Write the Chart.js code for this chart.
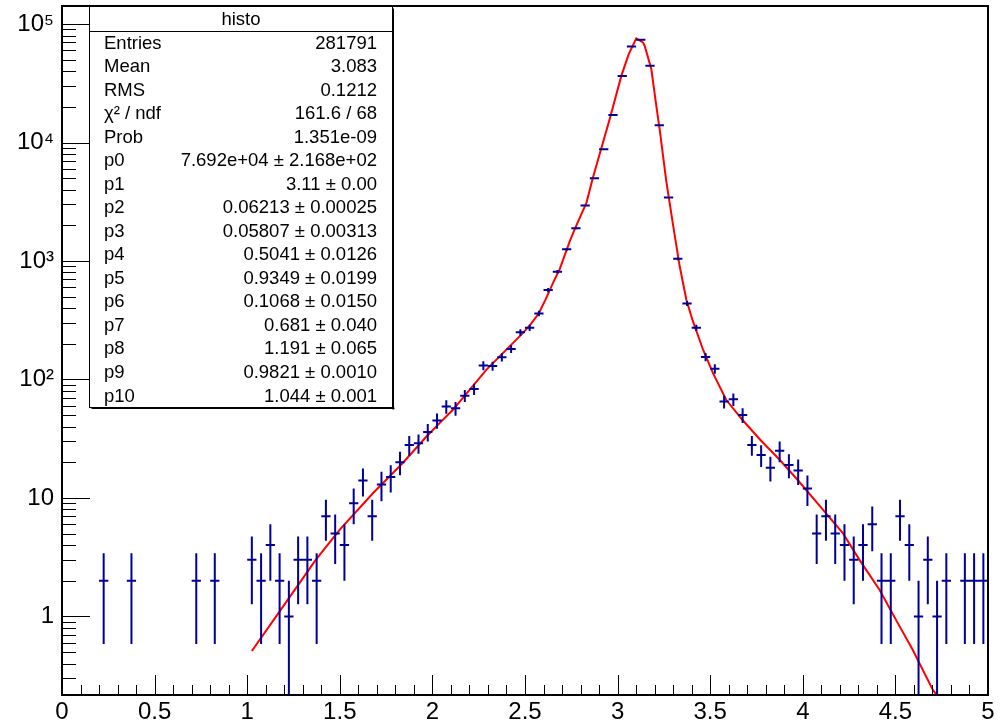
<!DOCTYPE html>
<html>
<head>
<meta charset="utf-8">
<script src="https://cdn.jsdelivr.net/npm/chart.js@4/dist/chart.umd.min.js"></script>
<style>
  html, body { margin: 0; padding: 0; background: #fff; }
  #histo { display: block; }
</style>
</head>
<body>
<canvas id="histo" width="1006" height="727"></canvas>
<script>
// histogram: 100 bins from 0 to 5
const binLow = 0;
const binWidth = 0.05;
const counts = [
  0, 0, 0, 0, 2, 0, 0, 2, 0, 0,
  0, 0, 0, 0, 2, 0, 2, 0, 0, 0,
  3, 2, 4, 2, 1, 3, 3, 2, 7, 5,
  4, 9, 14, 7, 13, 15, 20, 28, 29, 36,
  45, 59, 57, 73, 83, 131, 130, 154, 181, 250,
  273, 361, 568, 811, 1254, 1888, 2940, 4990, 8770, 17100,
  36500, 64700, 73600, 44500, 14000, 3430, 1045, 438, 273, 155,
  123, 65, 68, 50, 28, 23, 18, 25, 19, 17,
  12, 5, 7, 5, 4, 3, 4, 6, 2, 2,
  7, 4, 1, 3, 1, 2, 0, 2, 2, 2
];

// fit curve
const fitX = [1.025, 1.18, 1.37, 1.50, 1.68, 1.84, 1.968, 2.04, 2.112, 2.292, 2.472, 2.525, 2.575, 2.61, 2.652, 2.687, 2.742, 2.768, 2.832, 2.867, 2.957, 3.02, 3.06, 3.101, 3.137, 3.146, 3.182, 3.209, 3.227, 3.263, 3.299, 3.335, 3.371, 3.405, 3.461, 3.515, 3.587, 3.677, 3.77, 3.875, 3.97, 4.12, 4.216, 4.306, 4.414, 4.504, 4.594, 4.666, 4.702, 4.74];
const fitY = [0.51, 1.13, 3.0, 5.4, 11.0, 19.7, 33, 43, 55.7, 121, 232, 285, 362, 470, 656, 849, 1472, 1850, 3112, 5060, 15700, 36500, 55700, 75700, 70000, 65600, 41700, 20400, 12950, 4700, 2040, 906, 473, 315, 179, 113, 67, 45, 31, 21, 14.3, 7.6, 5.05, 3.0, 1.68, 0.93, 0.52, 0.31, 0.24, 0.2];

// axis
const xTicks = [0, 0.5, 1, 1.5, 2, 2.5, 3, 3.5, 4, 4.5, 5];
const yTicks = [1, 10, 100, 1000, 10000, 100000];
const yTickLabels = ['1', '10', '10²', '10³', '10⁴', '10⁵'];
const yMin = 0.217;
const yMax = 1.42e5;

// stats box
const statsTitle = 'histo';
const statsNames = ['Entries', 'Mean', 'RMS', 'χ² / ndf', 'Prob', 'p0', 'p1', 'p2', 'p3', 'p4', 'p5', 'p6', 'p7', 'p8', 'p9', 'p10'];
const statsValues = ['281791', '3.083', '0.1212', '161.6 / 68', '1.351e-09', '7.692e+04 ± 2.168e+02', '3.11 ± 0.00', '0.06213 ± 0.00025', '0.05807 ± 0.00313', '0.5041 ± 0.0126', '0.9349 ± 0.0199', '0.1068 ± 0.0150', '0.681 ± 0.040', '1.191 ± 0.065', '0.9821 ± 0.0010', '1.044 ± 0.001'];

const FONT = '"Liberation Sans", Arial, Helvetica, sans-serif';

// error bars as line segments, broken by gaps
const errPoints = [];
counts.forEach((n, i) => {
    if (n <= 0) return;
    const xc = binLow + binWidth * (i + 0.5);
    const e = Math.sqrt(n);
    errPoints.push({ x: xc - binWidth / 2, y: n });
    errPoints.push({ x: xc + binWidth / 2, y: n });
    errPoints.push({ x: xc, y: null });
    errPoints.push({ x: xc, y: Math.max(n - e, yMin * 0.5) });
    errPoints.push({ x: xc, y: n + e });
    errPoints.push({ x: xc, y: null });
});

const fitPoints = fitX.map((x, i) => ({ x: x, y: fitY[i] }));

const rootFrame = {
    id: 'rootFrame',
    afterDraw(chart) {
        const ctx = chart.ctx;
        const a = chart.chartArea;
        const xs = chart.scales.x;
        const ys = chart.scales.y;
        ctx.save();
        ctx.strokeStyle = '#000';
        ctx.lineWidth = 1;

        // x ticks, inside the frame
        ctx.beginPath();
        for (let k = 0; k <= 50; k++) {
            const px = Math.round(xs.getPixelForValue(k * 0.1)) + 0.5;
            const len = (k % 5 === 0) ? 20 : 10;
            ctx.moveTo(px, a.bottom);
            ctx.lineTo(px, a.bottom - len);
        }
        // y ticks, log
        for (let d = -1; d <= 5; d++) {
            for (let m = 1; m <= 9; m++) {
                const v = m * Math.pow(10, d);
                if (v < yMin || v > yMax) continue;
                const py = Math.round(ys.getPixelForValue(v)) + 0.5;
                const len = (m === 1) ? 28 : 14;
                ctx.moveTo(a.left, py);
                ctx.lineTo(a.left + len, py);
            }
        }
        ctx.stroke();

        // stats box
        const bx = 89.5, by = Math.round(a.top) + 0.5, bw = 303, bh = 401;
        ctx.fillStyle = '#fff';
        ctx.fillRect(bx, by, bw, bh);
        ctx.fillStyle = '#000';
        ctx.fillRect(bx + 2, by + bh, bw, 1.5);
        ctx.fillRect(bx + bw, by + 2, 1.5, bh);
        ctx.strokeRect(bx, by, bw, bh);
        ctx.beginPath();
        ctx.moveTo(bx, 31.5);
        ctx.lineTo(bx + bw, 31.5);
        ctx.stroke();

        ctx.font = '18.5px ' + FONT;
        ctx.textBaseline = 'middle';
        ctx.textAlign = 'center';
        ctx.fillText(statsTitle, bx + bw / 2, 19.5);
        const rowH = 23.53;
        statsNames.forEach((name, i) => {
            const y = 43.5 + i * rowH;
            ctx.textAlign = 'left';
            ctx.fillText(name, 104, y);
            ctx.textAlign = 'right';
            ctx.fillText(statsValues[i], 377, y);
        });

        // frame
        ctx.lineWidth = 2;
        ctx.strokeRect(Math.round(a.left), Math.round(a.top), Math.round(a.right - a.left), Math.round(a.bottom - a.top));
        ctx.restore();
    }
};

new Chart(document.getElementById('histo'), {
    type: 'scatter',
    data: {
        datasets: [
            {
                label: 'histo',
                data: errPoints,
                showLine: true,
                spanGaps: false,
                borderColor: '#000099',
                borderWidth: 2,
                pointRadius: 0,
                tension: 0
            },
            {
                label: 'fit',
                data: fitPoints,
                showLine: true,
                borderColor: '#ff0000',
                borderWidth: 2,
                pointRadius: 0,
                tension: 0
            }
        ]
    },
    options: {
        responsive: false,
        animation: false,
        layout: { padding: { top: 6, right: 18, left: 0, bottom: 0 } },
        plugins: {
            legend: { display: false },
            tooltip: { enabled: false }
        },
        scales: {
            x: {
                type: 'linear',
                min: 0,
                max: 5,
                afterFit: s => { s.height = 32; s.paddingLeft = 0; s.paddingRight = 0; },
                afterBuildTicks: s => { s.ticks = xTicks.map(v => ({ value: v })); },
                grid: { display: false, drawTicks: false },
                border: { display: false },
                ticks: {
                    color: '#000',
                    font: { family: FONT, size: 24 },
                    padding: 3,
                    maxRotation: 0,
                    autoSkip: false,
                    callback: v => String(v)
                }
            },
            y: {
                type: 'logarithmic',
                min: yMin,
                max: yMax,
                afterFit: s => { s.width = 62; s.paddingTop = 0; s.paddingBottom = 0; },
                afterBuildTicks: s => { s.ticks = yTicks.map(v => ({ value: v })); },
                grid: { display: false, drawTicks: false },
                border: { display: false },
                ticks: {
                    color: '#000',
                    font: { family: FONT, size: 24 },
                    padding: 8,
                    autoSkip: false,
                    callback: v => yTickLabels[yTicks.indexOf(v)]
                }
            }
        }
    },
    plugins: [rootFrame]
});
</script>
</body>
</html>
